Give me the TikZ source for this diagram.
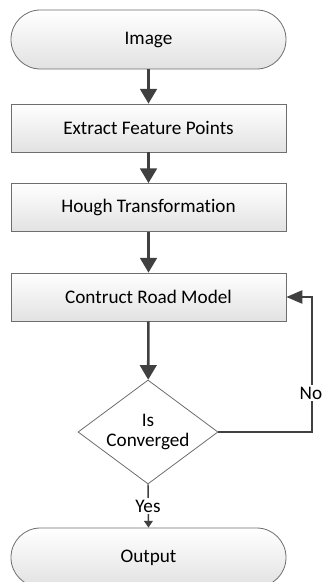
\documentclass[tikz,border=0pt]{standalone}
\usepackage{fontspec}
\setmainfont{Carlito}[Ligatures=NoCommon]
\usetikzlibrary{arrows.meta,shapes.geometric}
\definecolor{linecol}{HTML}{404040}
\definecolor{edgecol}{HTML}{6E6E6E}
\definecolor{shadebot}{HTML}{E2E2E2}
\begin{document}
\begin{tikzpicture}[x=0.75pt,y=-0.75pt,
  every node/.style={font=\fontsize{14.4}{17}\selectfont, text=black},
  procbox/.style={draw=edgecol, line width=0.6pt, top color=white, bottom color=shadebot,
    minimum width=206.25pt, minimum height=36pt, inner sep=0pt},
  termbox/.style={procbox, minimum height=44.25pt, rounded corners=22pt},
  decbox/.style={diamond, draw=edgecol, line width=0.6pt, fill=white, aspect=1.346,
    minimum width=105pt, minimum height=78pt, inner sep=0pt, align=center},
  mainarrow/.style={draw=linecol, line width=1.9pt, -{Triangle[width=12.5pt,length=11pt]}},
  looparrow/.style={draw=linecol, line width=1.1pt, -{Triangle[width=10pt,length=12pt]}},
  smallarrow/.style={draw=linecol, line width=1.1pt, -{Triangle[width=6.5pt,length=5pt]}},
  lbl/.style={fill=white, inner sep=1pt}
]
\useasboundingbox (0,0) rectangle (322,582);
\node[termbox] (img) at (148.5,39.5) {Image};
\node[procbox] (ext) at (148.5,128) {Extract Feature Points};
\node[procbox] (hough) at (148.5,207.5) {Hough Transformation};
\node[procbox] (road) at (148.5,297) {Contruct Road Model};
\node[decbox] (conv) at (148,432) {Is\\[-2pt]Converged};
\node[termbox] (out) at (148.5,557.5) {Output};

\path[mainarrow] (img) -- (ext);
\path[mainarrow] (ext) -- (hough);
\path[mainarrow] (hough) -- (road);
\path[mainarrow] (road) -- (conv);

\coordinate (c1) at (312,432);
\coordinate (c2) at (312,297);
\path[looparrow] (conv.east) -- (c1) -- (c2) -- (road.east);
\node[lbl] (no) at (311,393) {No};

\path[smallarrow] (conv.south) -- (out.north);
\node[lbl] (yes) at (148,506) {Yes};
\end{tikzpicture}
\end{document}
